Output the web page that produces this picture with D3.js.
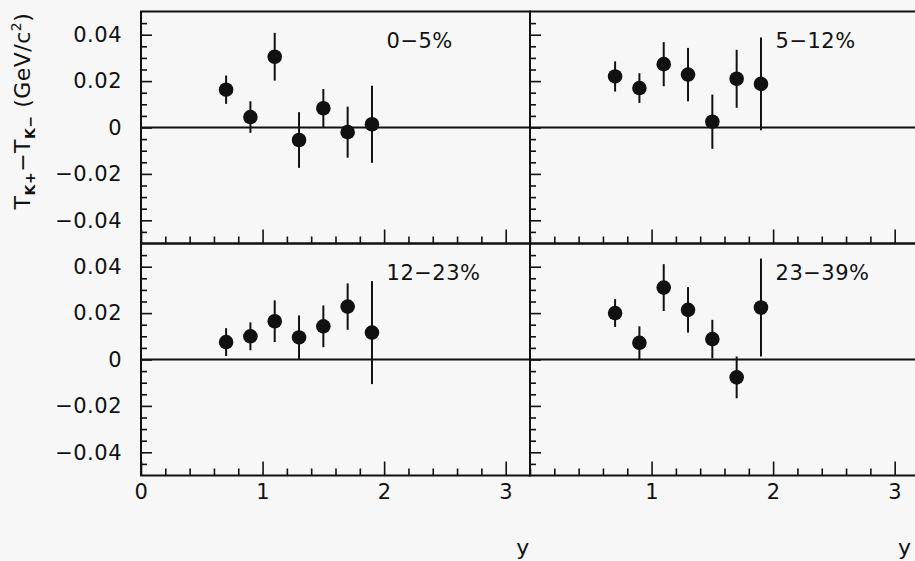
<!DOCTYPE html>
<html><head><meta charset="utf-8">
<script src="https://cdn.jsdelivr.net/npm/d3@7"></script>
<style>html,body{margin:0;padding:0;background:#f7f7f7;} svg{display:block}</style>
</head><body>
<svg id="c" width="915" height="561"></svg>
<script>
// rapidity bins
const rapidity = [0.7, 0.9, 1.1, 1.3, 1.5, 1.7, 1.9];
const centralityLabels = ["0−5%", "5−12%", "12−23%", "23−39%"];
// T(K+) - T(K-) in GeV/c^2 and errors
const dT_0_5   = [0.0163, 0.0045, 0.0305, -0.0054, 0.0083, -0.0020, 0.0014];
const err_0_5  = [0.0061, 0.0068, 0.0103, 0.0120, 0.0083, 0.0110, 0.0166];
const dT_5_12  = [0.0220, 0.0170, 0.0273, 0.0228, 0.0025, 0.0210, 0.0188];
const err_5_12 = [0.0065, 0.0064, 0.0095, 0.0115, 0.0117, 0.0125, 0.0200];
const dT_12_23  = [0.0075, 0.0100, 0.0165, 0.0095, 0.0143, 0.0228, 0.0116];
const err_12_23 = [0.0060, 0.0060, 0.0090, 0.0095, 0.0090, 0.0100, 0.0222];
const dT_23_39  = [0.0200, 0.0072, 0.0310, 0.0214, 0.0088, -0.0077, 0.0224];
const err_23_39 = [0.0060, 0.0071, 0.0101, 0.0098, 0.0083, 0.0090, 0.0211];
const xTickValues = [0, 1, 2, 3];
const xTickLabels = ["0", "1", "2", "3"];
const yTickValues = [-0.04, -0.02, 0, 0.02, 0.04];
const yTickLabels = ["−0.04", "−0.02", "0", "0.02", "0.04"];
const xAxisTitle = "y";

const panels = [
  {label: centralityLabels[0], v: dT_0_5, e: err_0_5, col: 0, row: 0},
  {label: centralityLabels[1], v: dT_5_12, e: err_5_12, col: 1, row: 0},
  {label: centralityLabels[2], v: dT_12_23, e: err_12_23, col: 0, row: 1},
  {label: centralityLabels[3], v: dT_23_39, e: err_23_39, col: 1, row: 1}
];

const W = 389, H = 232, X0 = 141, Y0 = 11.5;
const ink = "#111";
const font = "'DejaVu Sans', sans-serif";
const svg = d3.select("#c");
svg.append("rect").attr("width", 915).attr("height", 561).attr("fill", "#f7f7f7");

const x = d3.scaleLinear().domain([0, 3.2]).range([0, W]);
const y = d3.scaleLinear().domain([-0.05, 0.05]).range([H, 0]);
const xMinor = d3.range(0, 3.21, 0.2).map(d => +d.toFixed(2)).filter(d => Math.abs(d - Math.round(d)) > 1e-6);
const yMinor = d3.range(-0.045, 0.0451, 0.005).map(d => +d.toFixed(3)).filter(d => Math.abs(d / 0.02 - Math.round(d / 0.02)) > 1e-6);

panels.forEach(p => {
  const g = svg.append("g").attr("transform", `translate(${X0 + p.col * W},${Y0 + p.row * H})`);
  const style = sel => {
    sel.select(".domain").remove();
    sel.selectAll(".tick line").attr("stroke", ink).attr("stroke-width", 1.6);
    sel.selectAll("text").attr("font-family", font).attr("font-size", 21).attr("fill", ink).attr("letter-spacing", 0.5);
  };
  // bottom axis ticks (inward)
  g.append("g").attr("transform", `translate(0,${H})`)
    .call(d3.axisBottom(x).tickValues(xMinor).tickSize(-7).tickSizeOuter(0).tickFormat(""))
    .call(style);
  const showX = p.row === 1;
  g.append("g").attr("transform", `translate(0,${H})`)
    .call(d3.axisBottom(x).tickValues(p.col === 0 ? xTickValues : xTickValues.slice(1)).tickSize(-14).tickSizeOuter(0).tickPadding(9)
      .tickFormat(d => showX ? xTickLabels[xTickValues.indexOf(d)] : ""))
    .call(style);
  // left axis ticks (inward)
  g.append("g")
    .call(d3.axisLeft(y).tickValues(yMinor).tickSize(-6).tickSizeOuter(0).tickFormat(""))
    .call(style);
  g.append("g")
    .call(d3.axisLeft(y).tickValues(yTickValues).tickSize(-11).tickSizeOuter(0).tickPadding(19)
      .tickFormat(d => p.col === 0 ? yTickLabels[yTickValues.indexOf(d)] : ""))
    .call(style);
  // frame
  g.append("rect").attr("x", 0).attr("y", 0).attr("width", W).attr("height", H)
    .attr("fill", "none").attr("stroke", ink).attr("stroke-width", 2);
  // zero line
  g.append("line").attr("x1", x(0)).attr("x2", x(3.2)).attr("y1", y(0)).attr("y2", y(0))
    .attr("stroke", ink).attr("stroke-width", 2);
  // error bars
  g.selectAll(".eb").data(rapidity).join("line")
    .attr("x1", d => x(d)).attr("x2", d => x(d))
    .attr("y1", (d, i) => y(p.v[i] - p.e[i])).attr("y2", (d, i) => y(p.v[i] + p.e[i]))
    .attr("stroke", ink).attr("stroke-width", 2);
  g.selectAll(".pt").data(rapidity).join("circle")
    .attr("cx", d => x(d)).attr("cy", (d, i) => y(p.v[i])).attr("r", 7.3).attr("fill", ink);
  // centrality label
  g.append("text").attr("x", x(2.02)).attr("y", 36).text(p.label)
    .attr("font-family", font).attr("font-size", 21).attr("fill", ink).attr("letter-spacing", 0.5);
  // x axis title
  if (p.row === 1) {
    g.append("text").attr("x", p.col === 0 ? x(3.14) : x(3.08)).attr("y", 555 - Y0 - H).attr("text-anchor", "middle").text(xAxisTitle)
      .attr("font-family", font).attr("font-size", 22).attr("fill", ink);
  }
});

// y axis title
const yt = svg.append("text").attr("transform", "translate(30,111) rotate(-90)")
  .attr("text-anchor", "middle").attr("font-family", font).attr("font-size", 22).attr("fill", ink)
  .attr("letter-spacing", 0.5);
yt.append("tspan").text("T");
yt.append("tspan").attr("font-size", 14).attr("font-weight", "bold").attr("dy", 5).text("K+");
yt.append("tspan").attr("dy", -5).text("−T");
yt.append("tspan").attr("font-size", 14).attr("font-weight", "bold").attr("dy", 5).text("K−");
yt.append("tspan").attr("dy", -5).text(" (GeV/c");
yt.append("tspan").attr("font-size", 14).attr("dy", -9).text("2");
yt.append("tspan").attr("dy", 9).text(")");
</script>
</body></html>
